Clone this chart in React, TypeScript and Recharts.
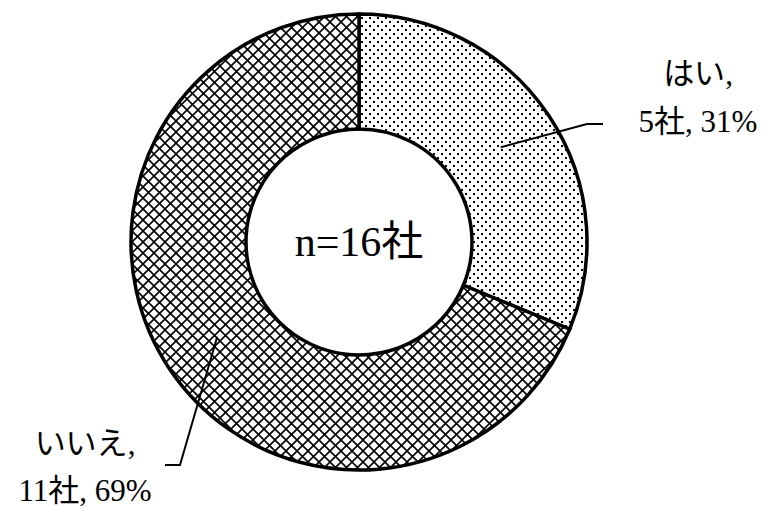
import { PieChart, Pie, Cell, Label } from "recharts";

const categories = ["はい", "いいえ"];
const companies = [5, 11];
const totalLabel = "n=16社";

const data = categories.map((name, i) => ({ name, value: companies[i] }));

const FONT = "'Liberation Serif', 'DejaVu Serif', 'Noto Sans CJK JP', serif";
const PIE_CX = 359;
const PIE_CY = 242;

// leader elbow / text placement relative to the pie centre
const labelLayout = [
  { elbow: [228, -118], end: [244, -118], tx: 339, lines: [-158, -110] },
  { elbow: [-179, 223], end: [-194, 223], tx: -274, lines: [212, 259] },
];

const RAD = Math.PI / 180;

function renderLabel(props: any) {
  const { cx, cy, midAngle, innerRadius, outerRadius, index, percent, value, name } = props;
  const lay = labelLayout[index];
  const r = (innerRadius + outerRadius) / 2;
  const sx = cx + r * Math.cos(-midAngle * RAD);
  const sy = cy + r * Math.sin(-midAngle * RAD);
  const pts = `${sx},${sy} ${cx + lay.elbow[0]},${cy + lay.elbow[1]} ${cx + lay.end[0]},${cy + lay.end[1]}`;
  return (
    <g>
      <polyline points={pts} fill="none" stroke="#000" strokeWidth={2} />
      <text x={cx + lay.tx} y={cy + lay.lines[0]} textAnchor="middle" fontSize={31} fontFamily={FONT} fill="#000">
        {name},
      </text>
      <text x={cx + lay.tx} y={cy + lay.lines[1]} textAnchor="middle" fontSize={31} fontFamily={FONT} fill="#000">
        {`${value}社, ${Math.round(percent * 100)}%`}
      </text>
    </g>
  );
}

function CenterLabel() {
  return (
    <text x={PIE_CX} y={PIE_CY + 14} textAnchor="middle" fontSize={42} fontFamily={FONT} fill="#000">
      {totalLabel}
    </text>
  );
}

export default function App() {
  return (
    <div style={{ position: "absolute", left: 0, top: 0, background: "#fff" }}>
      <PieChart width={768} height={507} margin={{ top: 0, right: 0, bottom: 0, left: 0 }}>
        <defs>
          <pattern id="dots" width="8" height="8" patternUnits="userSpaceOnUse">
            <rect width="8" height="8" fill="#fff" />
            <rect x="1" y="1" width="2" height="2" fill="#000" />
            <rect x="5" y="5" width="2" height="2" fill="#000" />
          </pattern>
          <pattern id="hatch" width="11" height="11" patternUnits="userSpaceOnUse">
            <rect width="11" height="11" fill="#fff" />
            <path d="M0,0 L11,11 M11,0 L0,11" stroke="#000" strokeWidth={1.6} />
          </pattern>
        </defs>
        <Pie
          data={data}
          dataKey="value"
          nameKey="name"
          cx={PIE_CX}
          cy={PIE_CY}
          innerRadius={113}
          outerRadius={228}
          startAngle={90}
          endAngle={-270}
          stroke="#000"
          strokeWidth={3.5}
          label={renderLabel}
          labelLine={false}
          isAnimationActive={false}
        >
          <Cell fill="url(#dots)" />
          <Cell fill="url(#hatch)" />
          <Label position="center" content={CenterLabel} />
        </Pie>
      </PieChart>
    </div>
  );
}
